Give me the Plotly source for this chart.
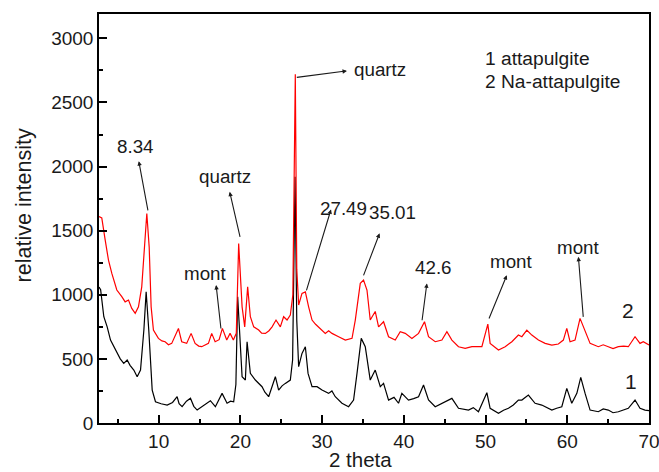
import plotly.graph_objects as go

# Sample 1: attapulgite (black)
two_theta_1 = [2.7, 2.9, 3.29, 3.7, 4.11, 4.5, 4.93, 5.3, 5.73, 6.15, 6.5, 6.96, 7.37, 7.78, 8.19, 8.47, 8.79,
               9.21, 9.61, 10.3, 11.04, 11.7, 12.26, 12.5, 12.87, 13.4, 13.89, 14.3, 14.71, 15.5, 16.33, 16.94,
               17.76, 18.37, 18.8, 19.18, 19.45, 19.67, 19.94, 20.21, 20.61, 20.82, 21.22, 21.83, 22.65,
               23.0, 23.46, 24.28, 24.68, 25.1, 25.5, 26.11, 26.39, 26.69, 26.9, 27.13, 27.54, 27.95, 28.28,
               28.77, 29.38, 29.99, 30.79, 31.2, 31.61, 32.43, 33.24, 33.85, 34.27, 34.79, 35.28, 35.89,
               36.5, 37.12, 37.52, 38.13, 38.8, 39.35, 39.76, 40.57, 41.2, 41.8, 42.41, 43.02, 43.84,
               44.66, 45.88, 46.69, 47.91, 48.5, 49.13, 50.16, 50.56, 51.58, 52.2, 52.8, 53.4, 54.02,
               54.44, 55.24, 56.06, 56.88, 57.5, 58.11, 58.7, 59.33, 59.94, 60.55, 61.17, 61.65, 62.18,
               62.79, 63.8, 64.4, 65.02, 65.6, 66.25, 66.9, 67.47, 68.29, 68.9, 69.51, 70.0]
intensity_1 = [1060, 1040, 829, 750, 647, 600, 543, 500, 465, 491, 450, 413, 361, 413, 725, 1023, 725,
               257, 166, 150, 140, 160, 205, 150, 127, 170, 193, 130, 101, 140, 174, 127,
               231, 154, 170, 166, 300, 985, 700, 361, 335, 634, 387, 335, 283,
               240, 205, 361, 257, 290, 309, 335, 491, 1920, 800, 439, 543, 595, 387,
               283, 283, 257, 231, 250, 205, 154, 127, 179, 387, 660, 595, 335,
               413, 283, 309, 179, 200, 154, 231, 179, 190, 205, 296, 179, 127,
               154, 192, 115, 101, 120, 88, 236, 115, 76, 100, 115, 140, 179,
               179, 218, 154, 140, 120, 101, 115, 127, 270, 154, 231, 356, 231,
               101, 88, 110, 101, 80, 88, 100, 115, 179, 115, 101, 96]

# Sample 2: Na-attapulgite (red)
two_theta_2 = [2.7, 3.04, 3.46, 3.86, 4.27, 4.88, 5.49, 5.9, 6.31, 6.71, 7.13, 7.53, 7.93, 8.26, 8.55, 8.84,
               9.08, 9.36, 9.97, 10.4, 10.79, 11.2, 11.6, 12.42, 12.82, 13.43, 13.97, 14.46, 14.9, 15.27,
               15.7, 16.09, 16.49, 16.91, 17.4, 17.8, 18.33, 18.74, 19.14, 19.5, 19.79, 20.21, 20.53,
               20.89, 21.22, 21.63, 22.24, 22.6, 23.06, 23.5, 23.88, 24.36, 24.89, 25.29, 25.71, 26.11,
               26.42, 26.72, 26.9, 27.13, 27.54, 27.95, 28.35, 28.77, 29.2, 29.57, 30.39, 30.8, 31.21,
               32.02, 32.84, 33.66, 34.06, 34.67, 35.07, 35.49, 35.89, 36.5, 36.91, 37.52, 38.13, 38.95,
               39.56, 40.17, 40.99, 41.8, 42.53, 43.02, 43.84, 44.66, 45.27, 45.88, 46.69, 47.51, 48.33,
               49.55, 50.28, 50.56, 51.58, 52.4, 53.22, 54.02, 54.44, 55.05, 55.66, 56.47, 57.29, 58.11,
               58.91, 59.52, 59.94, 60.34, 60.95, 61.56, 62.18, 62.79, 63.8, 64.4, 65.02, 65.6, 66.25,
               66.9, 67.47, 67.89, 68.29, 68.9, 69.3, 70.0]
intensity_2 = [1610, 1600, 1426, 1270, 1167, 1037, 985, 945, 959, 894, 855, 906, 1062, 1374, 1634, 1374,
               906, 725, 660, 640, 634, 610, 621, 738, 634, 621, 699, 621, 600, 595,
               610, 621, 699, 634, 650, 738, 647, 699, 647, 700, 1400, 906, 750,
               1062, 829, 750, 725, 700, 699, 720, 750, 803, 750, 829, 803, 842,
               1000, 2720, 1200, 920, 1011, 1023, 906, 803, 770, 750, 699, 720, 699,
               673, 647, 660, 803, 1089, 1115, 1037, 803, 870, 750, 790, 673, 647,
               712, 699, 660, 699, 790, 673, 634, 647, 712, 647, 595, 582, 595,
               595, 771, 621, 569, 595, 634, 686, 673, 725, 686, 647, 621, 608,
               616, 647, 738, 634, 647, 816, 725, 621, 595, 610, 595, 580, 595,
               600, 595, 634, 673, 621, 634, 608]

x_ticks = [10, 20, 30, 40, 50, 60, 70]
y_ticks = [0, 500, 1000, 1500, 2000, 2500, 3000]

# peak labels: (text, text_x, text_y, arrow_head_x, arrow_head_y, arrow_tail_x, arrow_tail_y)
peak_labels = [
    ("8.34", 7.13, 2154, 7.57, 2042, 8.72, 1647),
    ("quartz", 18.17, 1920, 18.69, 1803, 20.0, 1440),
    ("mont", 15.78, 1167, 17.03, 1076, 17.64, 725),
    ("27.49", 32.63, 1676, 31.09, 1666, 28.03, 1023),
    ("35.01", 38.58, 1641, 37.03, 1479, 35.0, 1140),
    ("42.6", 43.59, 1212, 42.82, 1089, 42.21, 790),
    ("mont", 53.17, 1257, 52.6, 1153, 50.35, 803),
    ("mont", 61.32, 1368, 61.36, 1296, 61.97, 816),
]

FONT = "Arial, Liberation Sans, sans-serif"
TXT = "#1a1a1a"
LBL = 18.8

fig = go.Figure()
fig.add_trace(go.Scatter(x=two_theta_1, y=intensity_1, mode="lines",
                         line=dict(color="#000000", width=1.2), name="1 attapulgite"))
fig.add_trace(go.Scatter(x=two_theta_2, y=intensity_2, mode="lines",
                         line=dict(color="#ff0000", width=1.2), name="2 Na-attapulgite"))

ann = []
for t, tx, ty, hx, hy, sx, sy in peak_labels:
    ann.append(dict(x=tx, y=ty, text=t, showarrow=False, xref="x", yref="y",
                    font=dict(family=FONT, size=LBL, color=TXT)))
    ann.append(dict(x=hx, y=hy, ax=sx, ay=sy, xref="x", yref="y", axref="x", ayref="y",
                    text="", showarrow=True, arrowhead=2, arrowsize=0.8, arrowwidth=1.1,
                    arrowcolor="#1a1a1a"))
# top quartz label with arrow to the right
ann.append(dict(x=33.65, y=2759, text="quartz", showarrow=False, xanchor="left",
                font=dict(family=FONT, size=LBL, color=TXT)))
ann.append(dict(x=33.04, y=2746, ax=26.72, ay=2694, xref="x", yref="y", axref="x", ayref="y",
                text="", showarrow=True, arrowhead=2, arrowsize=0.8, arrowwidth=1.1,
                arrowcolor="#1a1a1a"))
# legend text
ann.append(dict(x=49.65, y=2843, text="1 attapulgite", showarrow=False, xanchor="left",
                font=dict(family=FONT, size=19.2, color=TXT)))
ann.append(dict(x=49.65, y=2660, text="2 Na-attapulgite", showarrow=False, xanchor="left",
                font=dict(family=FONT, size=19.2, color=TXT)))
# curve numbers
ann.append(dict(x=67.37, y=881, text="2", showarrow=False,
                font=dict(family=FONT, size=21, color=TXT)))
ann.append(dict(x=67.78, y=325, text="1", showarrow=False,
                font=dict(family=FONT, size=21, color=TXT)))
# axis titles
ann.append(dict(x=0.4755, y=-0.09, xref="paper", yref="paper", text="2 theta", showarrow=False,
                xanchor="center", yanchor="middle", font=dict(family=FONT, size=20.5, color=TXT)))
ann.append(dict(x=-0.1364, y=0.532, xref="paper", yref="paper", text="relative intensity",
                showarrow=False, textangle=-90, xanchor="center", yanchor="middle",
                font=dict(family=FONT, size=21.5, color=TXT)))

axis_common = dict(showline=True, linecolor="#000000", linewidth=1.5, mirror=True,
                   ticks="inside", ticklen=8, tickwidth=1.5, tickcolor="#000000",
                   showgrid=False, zeroline=False, automargin=False,
                   ticklabeloverflow="allow",
                   tickfont=dict(family=FONT, size=19, color=TXT))

fig.update_layout(
    width=659, height=472,
    margin=dict(l=99, r=10, t=14, b=49, autoexpand=False),
    paper_bgcolor="white", plot_bgcolor="white",
    showlegend=False,
    annotations=ann,
    xaxis=dict(range=[2.7, 70], tickvals=x_ticks,
               minor=dict(ticks="inside", ticklen=4, tickwidth=1.5, dtick=5, tick0=0, tickcolor="#000000"),
               **axis_common),
    yaxis=dict(range=[0, 3190], tickvals=y_ticks,
               minor=dict(ticks="inside", ticklen=4, tickwidth=1.5, dtick=250, tick0=0, tickcolor="#000000"),
               **axis_common),
)

fig.write_html("out.html", config={"displayModeBar": False},
               post_script="document.body.style.margin='0';document.body.style.overflow='hidden';")
